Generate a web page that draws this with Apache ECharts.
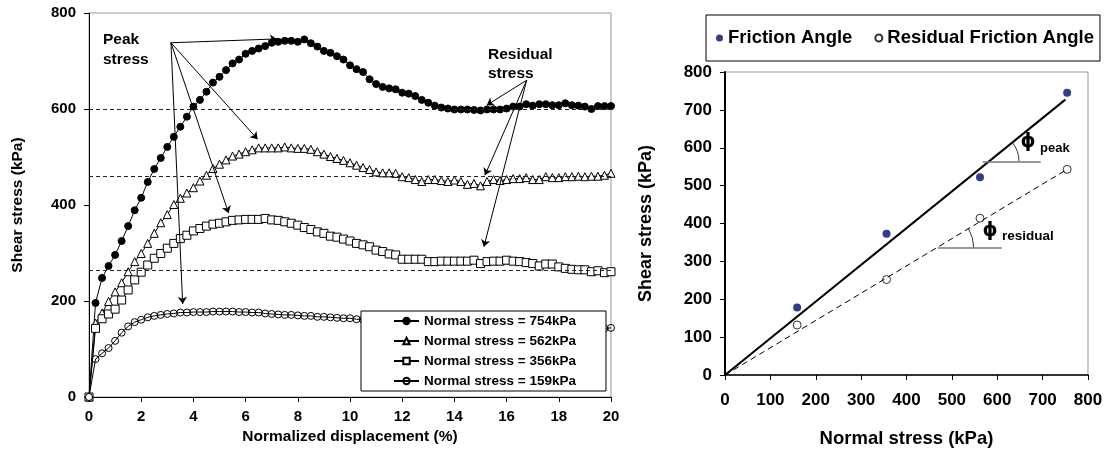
<!DOCTYPE html>
<html>
<head>
<meta charset="utf-8">
<script src="https://cdn.jsdelivr.net/npm/echarts@6/dist/echarts.min.js"></script>
<style>
  html, body { margin: 0; padding: 0; background: #fff; }
  #chart { width: 1108px; height: 453px; }
</style>
</head>
<body>
<div id="chart"></div>
<script>
// left panel: shear stress vs normalized displacement (%)
const displacement = [
  0,
  0.25, 0.5, 0.75, 1, 1.25, 1.5, 1.75, 2, 2.25, 2.5, 2.75, 3, 3.25, 3.5, 3.75, 4,
  4.25, 4.5, 4.75, 5, 5.25, 5.5, 5.75, 6, 6.25, 6.5, 6.75, 7, 7.25, 7.5, 7.75, 8,
  8.25, 8.5, 8.75, 9, 9.25, 9.5, 9.75, 10, 10.25, 10.5, 10.75, 11, 11.25, 11.5, 11.75, 12,
  12.25, 12.5, 12.75, 13, 13.25, 13.5, 13.75, 14, 14.25, 14.5, 14.75, 15, 15.25, 15.5, 15.75, 16,
  16.25, 16.5, 16.75, 17, 17.25, 17.5, 17.75, 18, 18.25, 18.5, 18.75, 19, 19.25, 19.5, 19.75, 20
];
const stress754 = [
  0,
  196, 248, 273, 296, 325, 356, 389, 415, 448, 475, 498, 521, 542, 563, 584, 605,
  619, 636, 655, 667, 681, 695, 703, 715, 721, 726, 731, 738, 740, 742, 742, 740,
  745, 737, 730, 721, 717, 710, 703, 691, 683, 677, 662, 652, 646, 643, 641, 634,
  632, 627, 619, 613, 607, 603, 601, 599, 599, 599, 598, 597, 599, 599, 599, 601,
  605, 605, 610, 607, 610, 610, 608, 608, 612, 608, 607, 605, 600, 606, 606, 606
];
const stress562 = [
  0,
  154, 175, 199, 219, 238, 261, 282, 299, 320, 341, 363, 380, 401, 414, 425, 436,
  450, 462, 476, 485, 494, 502, 506, 511, 515, 519, 519, 519, 519, 521, 519, 518,
  518, 516, 511, 506, 501, 497, 493, 488, 483, 478, 474, 469, 467, 467, 466, 459,
  457, 453, 449, 453, 453, 451, 449, 452, 449, 443, 445, 440, 449, 453, 451, 453,
  455, 455, 457, 453, 453, 459, 457, 457, 459, 459, 460, 459, 460, 460, 462, 466
];
const stress356 = [
  0,
  143, 163, 173, 183, 202, 223, 244, 260, 275, 289, 299, 310, 320, 330, 337, 346,
  351, 356, 360, 362, 365, 368, 369, 370, 370, 370, 372, 369, 368, 365, 362, 358,
  353, 349, 344, 341, 335, 333, 329, 325, 320, 317, 313, 306, 303, 298, 296, 287,
  287, 287, 287, 282, 282, 283, 283, 283, 283, 283, 285, 278, 282, 283, 283, 285,
  283, 282, 280, 278, 273, 277, 277, 271, 268, 266, 265, 265, 261, 263, 259, 261
];
const stress159 = [
  0,
  79, 91, 102, 117, 134, 147, 156, 161, 166, 169, 171, 173, 174, 176, 176, 177,
  177, 177, 178, 178, 178, 178, 177, 177, 176, 176, 174, 173, 172, 171, 171, 170,
  169, 169, 167, 167, 166, 165, 164, 164, 162, 161, 160, 160, 159, 158, 158, 157,
  156, 156, 155, 154, 154, 153, 152, 152, 151, 150, 150, 149, 149, 148, 148, 147,
  147, 146, 146, 145, 145, 145, 144, 144, 144, 143, 143, 143, 142, 142, 143, 144
];
const residualLevels = [600, 460, 265];
const peakArrowFrom = [3.14, 738];
const peakArrowTo = [[7.2, 746], [6.46, 537], [5.35, 383], [3.59, 194]];
const residualArrowFrom = [16.77, 660];
const residualArrowTo = [[15.24, 608], [15.17, 462], [15.13, 313]];

// right panel: failure envelopes
const normalStress = [159, 356, 562, 754];
const peakShear = [178, 373, 522, 745];
const residualShear = [132, 252, 414, 543];
const peakFit = [[0, 0], [750, 727]];
const residualFit = [[0, 0], [754, 543]];
const peakRefY = 564;
const residualRefY = 336;

const FONT = '"Liberation Sans", Arial, Helvetica, sans-serif';
const pairs = (xs, ys) => xs.map((x, i) => [x, ys[i]]);
const bold = (size) => ({ color: '#000', fontWeight: 'bold', fontSize: size, fontFamily: FONT });

function lineSeries(name, values, symbol, size, fill) {
  return {
    name, type: 'line', xAxisIndex: 0, yAxisIndex: 0,
    data: pairs(displacement, values),
    symbol, symbolSize: size, showAllSymbol: true,
    lineStyle: { color: '#000', width: 1 },
    itemStyle: { color: fill, borderColor: '#000', borderWidth: 1 },
    emphasis: { disabled: true }
  };
}

function axisCommon(min, max, interval, labelSize, margin) {
  return {
    type: 'value', min, max, interval,
    axisLine: { show: true, lineStyle: { color: '#000', width: 1 } },
    axisTick: { show: true, inside: false, length: 5, lineStyle: { color: '#000' } },
    axisLabel: { ...bold(labelSize), margin },
    splitLine: { show: false },
    nameLocation: 'middle'
  };
}

const chart = echarts.init(document.getElementById('chart'));

const s754 = lineSeries('Normal stress = 754kPa', stress754, 'circle', 7, '#000');
s754.markLine = {
  silent: true, animation: false, symbol: ['none', 'arrow'], symbolSize: 7,
  label: { show: false },
  lineStyle: { color: '#000', width: 1, type: 'solid' },
  data: peakArrowTo.map(p => [{ coord: peakArrowFrom }, { coord: p }])
    .concat(residualArrowTo.map(p => [{ coord: residualArrowFrom }, { coord: p }]))
};
const s562 = lineSeries('Normal stress = 562kPa', stress562, 'triangle', 8, '#fff');
s562.markLine = {
  silent: true, animation: false, symbol: 'none',
  label: { show: false },
  lineStyle: { color: '#222', width: 1, type: [4, 3] },
  data: residualLevels.map(v => ({ yAxis: v }))
};
const s356 = lineSeries('Normal stress = 356kPa', stress356, 'rect', 8, '#fff');
const s159 = lineSeries('Normal stress = 159kPa', stress159, 'circle', 7, 'rgba(0,0,0,0)');

chart.setOption({
  animation: false,
  textStyle: { fontFamily: FONT },
  grid: [
    { left: 89, right: 497, top: 13, bottom: 56, show: true, borderColor: '#999', borderWidth: 1 },
    { left: 725, right: 20, top: 72, bottom: 76, show: true, borderColor: '#999', borderWidth: 1 }
  ],
  xAxis: [
    { ...axisCommon(0, 20, 2, 15, 12), gridIndex: 0, name: 'Normalized displacement (%)',
      nameGap: 31, nameTextStyle: bold(15.5) },
    { ...axisCommon(0, 800, 100, 17, 17), gridIndex: 1, name: 'Normal stress (kPa)',
      nameGap: 54, nameTextStyle: bold(18.5),
      axisLine: { show: true, lineStyle: { color: '#000', width: 1.5 } } }
  ],
  yAxis: [
    { ...axisCommon(0, 800, 200, 15, 13), gridIndex: 0, name: 'Shear stress (kPa)',
      nameGap: 63, nameTextStyle: bold(15.5) },
    { ...axisCommon(0, 800, 100, 17, 13), gridIndex: 1, name: 'Shear stress (kPa)',
      nameGap: 70, nameTextStyle: bold(18),
      axisLine: { show: true, lineStyle: { color: '#000', width: 2 } } }
  ],
  legend: [
    {
      orient: 'vertical', left: 361, top: 311,
      data: [s754.name, s562.name, s356.name, s159.name],
      itemWidth: 25, itemHeight: 8, itemGap: 6,
      padding: [3, 30, 3, 32],
      backgroundColor: '#fff', borderColor: '#000', borderWidth: 1,
      textStyle: { ...bold(13.5), lineHeight: 14 },
      selectedMode: false
    },
    {
      orient: 'horizontal', left: 706, top: 15,
      data: [{ name: 'Friction Angle', icon: 'circle' }, { name: 'Residual Friction Angle', icon: 'circle' }],
      itemWidth: 7, itemHeight: 7, itemGap: 22,
      padding: [13, 6, 13, 10],
      backgroundColor: '#fff', borderColor: '#000', borderWidth: 1,
      textStyle: { ...bold(18.5), lineHeight: 20 },
      selectedMode: false
    }
  ],
  series: [
    s754, s562, s356, s159,
    {
      name: 'peak fit', type: 'line', xAxisIndex: 1, yAxisIndex: 1, data: peakFit,
      symbol: 'none', lineStyle: { color: '#000', width: 2 }, emphasis: { disabled: true },
      markLine: {
        silent: true, animation: false, symbol: 'none', label: { show: false },
        lineStyle: { color: '#777', width: 1.5, type: 'solid' },
        data: [
          [{ coord: [568, peakRefY] }, { coord: [696, peakRefY] }],
          [{ coord: [469, residualRefY] }, { coord: [610, residualRefY] }]
        ]
      }
    },
    {
      name: 'residual fit', type: 'line', xAxisIndex: 1, yAxisIndex: 1, data: residualFit,
      symbol: 'none', lineStyle: { color: '#000', width: 1, type: [6, 4] }, emphasis: { disabled: true }
    },
    {
      name: 'Friction Angle', type: 'scatter', xAxisIndex: 1, yAxisIndex: 1,
      data: pairs(normalStress, peakShear), symbolSize: 8,
      itemStyle: { color: '#000a6e' }, emphasis: { disabled: true }
    },
    {
      name: 'Residual Friction Angle', type: 'scatter', xAxisIndex: 1, yAxisIndex: 1,
      data: pairs(normalStress, residualShear), symbolSize: 8,
      itemStyle: { color: '#fff', borderColor: '#000', borderWidth: 1 }, emphasis: { disabled: true }
    }
  ]
});

// angle arcs sit where each fit line meets its reference line
function angleArc(fit, refY, r) {
  const vx = refY * fit[1][0] / fit[1][1];
  const c = chart.convertToPixel({ gridIndex: 1 }, [vx, refY]);
  const e = chart.convertToPixel({ gridIndex: 1 }, fit[1]);
  const ang = Math.atan2(c[1] - e[1], e[0] - c[0]);
  return {
    type: 'arc', silent: true,
    shape: { cx: c[0], cy: c[1], r, startAngle: -ang, endAngle: 0, clockwise: true },
    style: { stroke: '#333', fill: null, lineWidth: 1 }
  };
}
const note = (text, x, y, size, family) => ({
  type: 'text', silent: true, left: x, top: y,
  style: { text, fill: '#000', font: `bold ${size}px ${family || FONT}`, textVerticalAlign: 'middle' }
});

chart.setOption({
  graphic: [
    note('Peak', 103, 32, 15.5), note('stress', 103, 52, 15.5),
    note('Residual', 488, 47, 15.5), note('stress', 488, 66, 15.5),
    angleArc(peakFit, peakRefY, 30),
    angleArc(residualFit, residualRefY, 37),
    { type: 'text', silent: true, x: 1028, y: 142,
      style: { text: 'ϕ', fill: '#000', font: 'bold 19px "DejaVu Sans"', align: 'center', verticalAlign: 'middle' } },
    { type: 'text', silent: true, x: 1040, y: 148,
      style: { text: 'peak', fill: '#000', font: `bold 13px ${FONT}`, verticalAlign: 'middle' } },
    { type: 'text', silent: true, x: 990, y: 231,
      style: { text: 'ϕ', fill: '#000', font: 'bold 19px "DejaVu Sans"', align: 'center', verticalAlign: 'middle' } },
    { type: 'text', silent: true, x: 1002, y: 236,
      style: { text: 'residual', fill: '#000', font: `bold 13.5px ${FONT}`, verticalAlign: 'middle' } }
  ]
});
</script>
</body>
</html>
